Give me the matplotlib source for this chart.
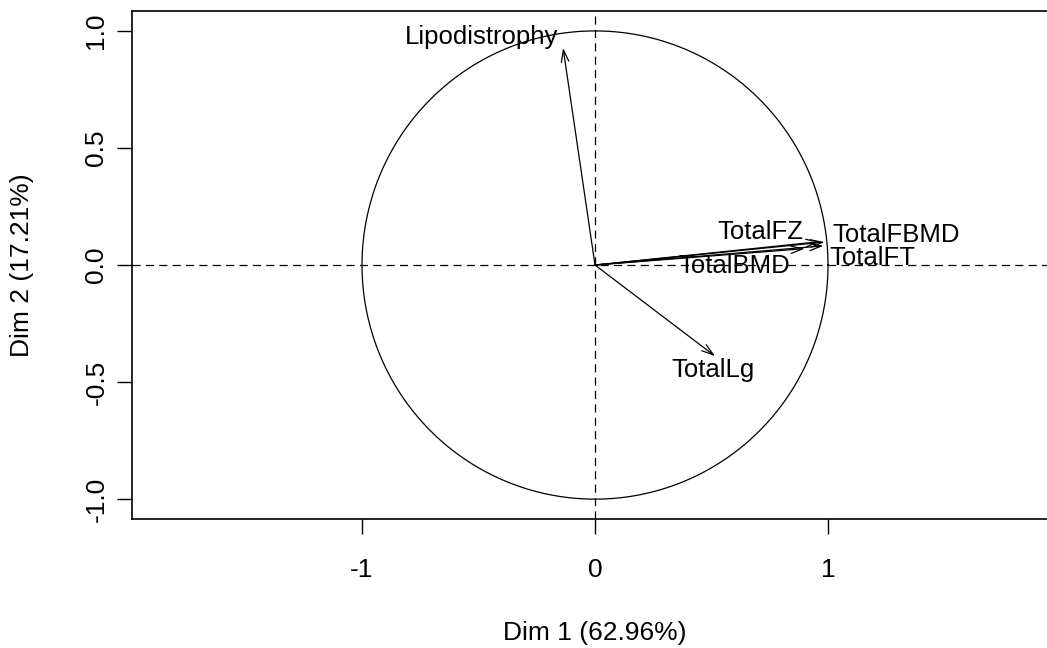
# PCA variables factor map (correlation circle)
import numpy as np
import matplotlib
matplotlib.use("Agg")
import matplotlib.pyplot as plt

plt.rcParams['font.family'] = ['Liberation Sans', 'DejaVu Sans']

# Variable coordinates on Dim 1 / Dim 2
variables = ['Lipodistrophy', 'TotalFZ', 'TotalFBMD', 'TotalFT', 'TotalBMD', 'TotalLg']
dim1 = [-0.137, 0.965, 0.985, 0.980, 0.900, 0.515]
dim2 = [0.927, 0.100, 0.098, 0.082, 0.070, -0.389]

# label positions (after label repelling, in data units)
label_x = [-0.489, 0.708, 1.292, 1.189, 0.597, 0.506]
label_y = [0.972, 0.140, 0.128, 0.028, -0.005, -0.450]

dim1_pct = 62.96
dim2_pct = 17.21

fig = plt.figure(figsize=(10.47, 6.48), dpi=100)
ax = fig.add_axes([0.1261, 0.199, 0.8844, 0.784])

ax.set_xlim(-1.987, 1.987)
ax.set_ylim(-1.085, 1.085)

# unit circle
t = np.linspace(0, 2 * np.pi, 400)
ax.plot(np.cos(t), np.sin(t), color='black', lw=0.9)

# axis lines
ax.axhline(0, color='black', lw=0.9, ls=(0, (6.5, 4.2)))
ax.axvline(0, color='black', lw=0.9, ls=(0, (6.5, 4.2)))

for i in range(len(variables)):
    ax.annotate('', xy=(dim1[i], dim2[i]), xytext=(0, 0),
                arrowprops=dict(arrowstyle='->,head_length=0.85,head_width=0.27',
                                color='black', lw=0.9, shrinkA=0, shrinkB=0))
    ax.text(label_x[i], label_y[i], variables[i], fontsize=18.5,
            ha='center', va='center')

ax.set_xticks([-1, 0, 1])
ax.set_xticklabels(['-1', '0', '1'])
ax.set_yticks([-1.0, -0.5, 0.0, 0.5, 1.0])
ax.set_yticklabels(['-1.0', '-0.5', '0.0', '0.5', '1.0'], rotation=90, va='center')
ax.tick_params(axis='both', direction='out', length=11, width=1.0, labelsize=19)
ax.tick_params(axis='x', pad=17)
ax.tick_params(axis='y', pad=6)

for s in ax.spines.values():
    s.set_linewidth(1.2)

fig.text(595 / 1047, 1 - 633 / 648, 'Dim 1 (%.2f%%)' % dim1_pct,
         fontsize=19, ha='center', va='center')
fig.text(22 / 1047, 1 - 265 / 648, 'Dim 2 (%.2f%%)' % dim2_pct,
         fontsize=19, ha='center', va='center', rotation=90)

fig.savefig('out.png', dpi=100)
